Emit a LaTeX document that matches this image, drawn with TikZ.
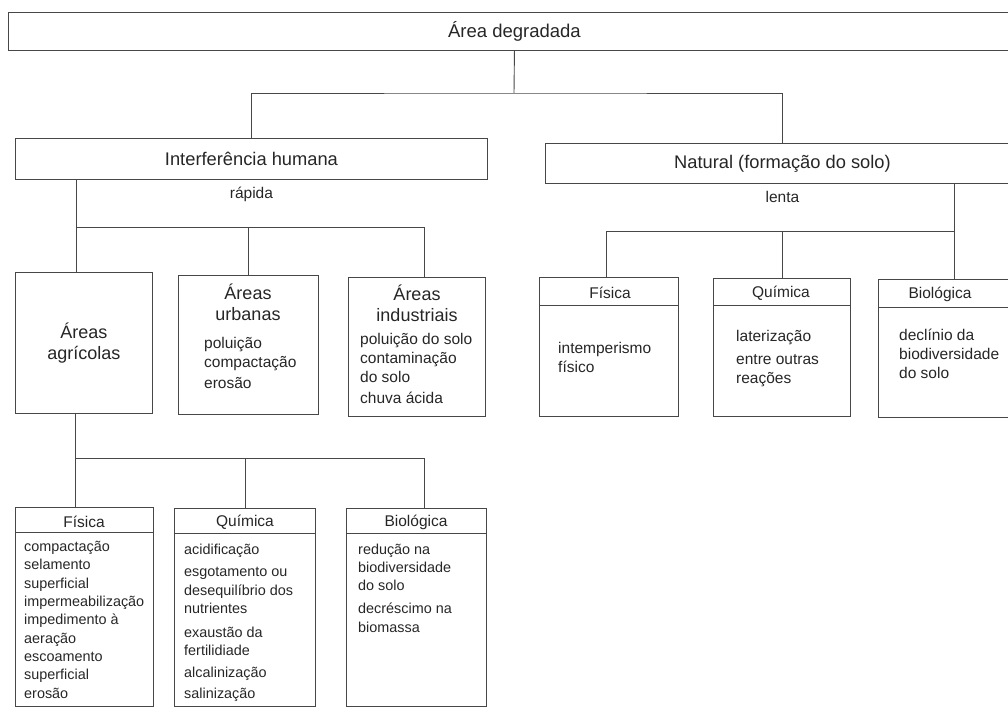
\documentclass[tikz,border=0pt]{standalone}
\usepackage{fontspec}
\setmainfont{Liberation Sans}
\usetikzlibrary{positioning}

\begin{document}
\begin{tikzpicture}[x=1pt, y=-1pt, line/.style={draw=black!72, line width=0.9pt}, every node/.style={text=black!85}]
% Define styles for boxes, headers and item lists
\tikzstyle{box} = [draw=black!72, line width=0.9pt, rectangle, inner sep=0pt, anchor=north west]
\tikzstyle{head} = [font=\fontsize{15.5}{18}\selectfont, inner sep=0pt]
\tikzstyle{list} = [font=\fontsize{14.4}{18.3}\selectfont, align=left, inner sep=0pt, anchor=base west]
\tikzstyle{midlist} = [list, font=\fontsize{15.5}{19}\selectfont]
\tikzstyle{big} = [font=\fontsize{18}{21}\selectfont, align=center, inner sep=0pt]

\useasboundingbox (0,0) rectangle (1008,708);

% Nodes placement
\node [box, minimum width=1012pt, minimum height=38pt, font=\fontsize{18.5}{20}\selectfont] (top) at (8,12) {Área degradada};
\node [box, minimum width=472pt, minimum height=41pt, font=\fontsize{18.3}{20}\selectfont] (hum) at (15,138) {Interferência humana};
\node [box, minimum width=474pt, minimum height=40pt, font=\fontsize{18.3}{20}\selectfont] (nat) at (545,143) {Natural (formação do solo)};
\node [head, below=6.5pt of hum] (rap) {rápida};
\node [head, below=7pt of nat] (len) {lenta};

% human side (last line of each list sits on the given baseline)
\node [box, minimum width=137pt, minimum height=141pt] (agr) at (15,272) {};
\node [big] (agrt) at (agr.center) {Áreas\\agrícolas};
\node [box, minimum width=140pt, minimum height=139pt] (urb) at (178,275) {};
\node [big] (urbt) at (248,302.5) {Áreas\\urbanas};
\node [midlist] (urbl) at (204,388.5) {poluição\\compactação\\[2pt]erosão};
\node [box, minimum width=137pt, minimum height=139pt] (ind) at (348,277) {};
\node [big] (indt) at (417,303) {Áreas\\industriais};
\node [midlist] (indl) at (360,403.5) {poluição do solo\\contaminação\\do solo\\[2pt]chuva ácida};

% natural side
\node [box, minimum width=139pt, minimum height=139pt] (nfis) at (539,277) {};
\node [head] (nfish) at (610,293) {Física};
\node [midlist] (nfisl) at (558,372.5) {intemperismo\\físico};
\node [box, minimum width=137pt, minimum height=138pt] (nqui) at (713,278) {};
\node [head] (nquih) at (781,293) {Química};
\node [midlist] (nquil) at (736,383.5) {laterização\\[4pt]entre outras\\reações};
\node [box, minimum width=152pt, minimum height=138pt] (nbio) at (878,279) {};
\node [head] (nbioh) at (940,294) {Biológica};
\node [midlist] (nbiol) at (899,378.5) {declínio da\\biodiversidade\\do solo};

% agricultural areas
\node [box, minimum width=138pt, minimum height=199pt] (fis) at (15,507) {};
\node [head] (fish) at (84,522) {Física};
\node [list] (fisl) at (24,698) {compactação\\selamento\\superficial\\impermeabilização\\impedimento à\\aeração\\escoamento\\superficial\\erosão};
\node [box, minimum width=141pt, minimum height=198pt] (qui) at (174,508) {};
\node [head] (quih) at (245,522) {Química};
\node [list] (quil) at (184,698) {acidificação\\[3.5pt]esgotamento ou\\desequilíbrio dos\\nutrientes\\[6pt]exaustão da\\fertilidiade\\[3pt]alcalinização\\[2.5pt]salinização};
\node [box, minimum width=140pt, minimum height=198pt] (bio) at (346,508) {};
\node [head] (bioh) at (416,522) {Biológica};
\node [list] (biol) at (358,632) {redução na\\biodiversidade\\do solo\\[4.5pt]decréscimo na\\biomassa};

% junction points
\coordinate (j0) at (514,93);
\coordinate (jh) at (76,227);
\coordinate (ji) at (424,227);
\coordinate (jf) at (606,231);
\coordinate (jn) at (954,231);
\coordinate (ja) at (75,458);
\coordinate (jb) at (424,458);

% Draw edges
\draw[line] (top.south) -- (j0);
\draw[line] (hum.north) |- (j0) -| (nat.north);
\draw[line] (jh |- hum.south) -- (jh |- agr.north);
\draw[line] (jh) -- (ji) -- (ji |- ind.north);
\draw[line] (urb.north) -- (urb.north |- jh);
\draw[line] (jn |- nat.south) -- (jn |- nbio.north);
\draw[line] (jf |- nfis.north) -- (jf) -- (jn);
\draw[line] (nqui.north) -- (nqui.north |- jn);
\draw[line] (ja |- agr.south) -- (ja |- fis.north);
\draw[line] (ja) -- (jb) -- (jb |- bio.north);
\draw[line] (qui.north) -- (qui.north |- ja);

% header rules
\draw[line] ([yshift=-28pt]nfis.north west) -- ([yshift=-28pt]nfis.north east);
\draw[line] ([yshift=-27pt]nqui.north west) -- ([yshift=-27pt]nqui.north east);
\draw[line] ([yshift=-28pt]nbio.north west) -- ([yshift=-28pt]nbio.north east);
\draw[line] ([yshift=-25pt]fis.north west) -- ([yshift=-25pt]fis.north east);
\draw[line] ([yshift=-25pt]qui.north west) -- ([yshift=-25pt]qui.north east);
\draw[line] ([yshift=-25pt]bio.north west) -- ([yshift=-25pt]bio.north east);
\end{tikzpicture}
\end{document}
